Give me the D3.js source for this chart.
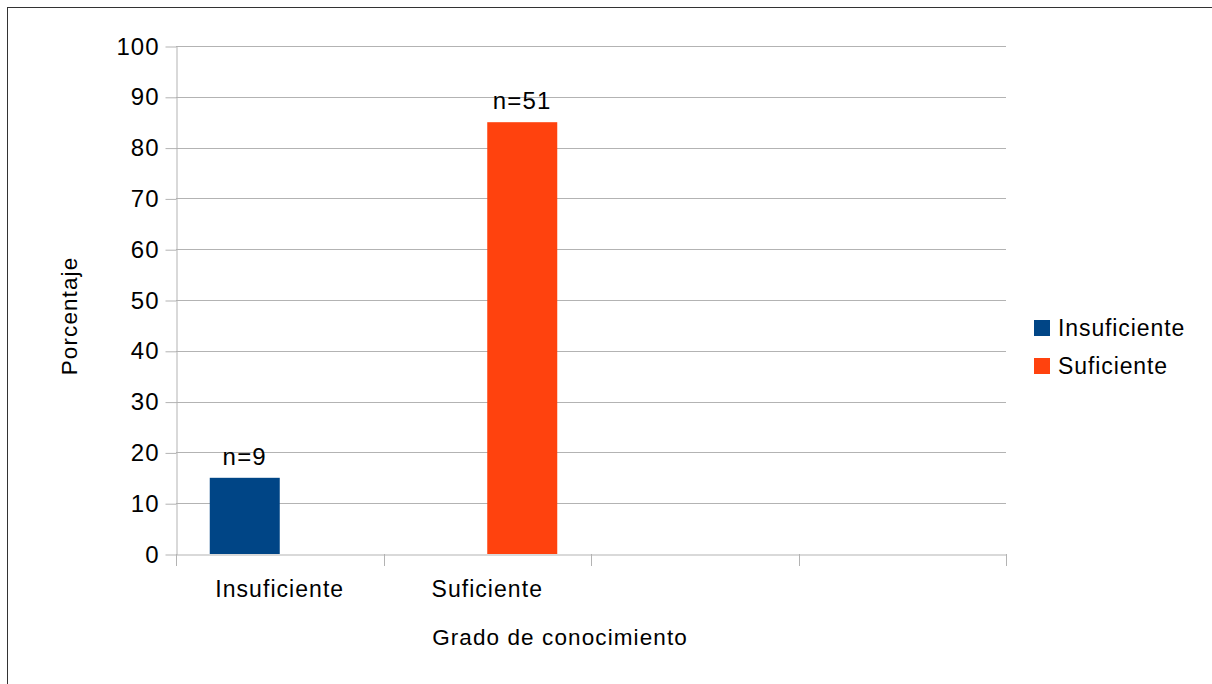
<!doctype html>
<html lang="en">
  <head>
    <meta charset="utf-8">
    <title>Grado de conocimiento</title>
    <script src="https://d3js.org/d3.v7.min.js"></script>
    <style>
      body { margin: 0; background: #fff; font-family: 'Liberation Sans', Arial, sans-serif; }
      text { fill: #000; }
    </style>
  </head>
  <body>
    <div id="root"></div>
  </body>
  <script>

    //data:
    const categories = ["Insuficiente", "Suficiente", "", ""];
    const seriesNames = ["Insuficiente", "Suficiente"];
    const insuficiente = [15, 0, null, null];
    const suficiente = [0, 85, null, null];
    const nLabels = ["n=9", "n=51"];
    const yTicks = [0, 10, 20, 30, 40, 50, 60, 70, 80, 90, 100];
    const colors = ["#004586", "#ff420e"];

    const width = 1212, height = 684;
    const plotLeft = 176, plotRight = 1006, plotTop = 46, plotBottom = 554;
    const groupWidth = 140;

    const svg = d3.select('#root').append('svg')
      .attr('width', width).attr('height', height);

    // outer frame
    svg.append('rect')
      .attr('x', 7.5).attr('y', 7.5)
      .attr('width', width).attr('height', height)
      .attr('fill', 'none').attr('stroke', '#333');

    //scales:
    const x = d3.scaleBand()
      .domain(d3.range(categories.length))
      .range([plotLeft, plotRight]);

    const xSub = d3.scaleBand()
      .domain(seriesNames)
      .range([(x.bandwidth() - groupWidth) / 2, (x.bandwidth() + groupWidth) / 2]);

    const y = d3.scaleLinear().domain([0, 100]).range([plotBottom, plotTop]);

    // gridlines
    svg.append('g').selectAll('line')
      .data(yTicks.filter(d => d > 0))
      .enter().append('line')
      .attr('x1', plotLeft).attr('x2', plotRight)
      .attr('y1', d => Math.round(y(d)) + 0.5).attr('y2', d => Math.round(y(d)) + 0.5)
      .attr('stroke', '#b3b3b3');

    //axes:
    const yAxis = svg.append('g')
      .attr('transform', `translate(${plotLeft + 0.5}, 0.5)`)
      .call(d3.axisLeft(y).tickValues(yTicks).tickSize(11).tickSizeOuter(0).tickPadding(6));
    yAxis.selectAll('line, path').attr('stroke', '#b3b3b3');
    yAxis.selectAll('text')
      .attr('font-size', 24).attr('font-family', 'Liberation Sans')
      .attr('letter-spacing', 1).attr('fill', '#000');

    const xAxis = svg.append('g')
      .attr('transform', `translate(0, ${plotBottom + 0.5})`)
      .call(d3.axisBottom(x).tickValues([]).tickSizeOuter(0));
    xAxis.select('path').attr('stroke', '#b3b3b3');

    // category boundary ticks
    svg.append('g').selectAll('line')
      .data(d3.range(categories.length + 1))
      .enter().append('line')
      .attr('x1', i => Math.round(plotLeft + i * x.step()) + 0.5)
      .attr('x2', i => Math.round(plotLeft + i * x.step()) + 0.5)
      .attr('y1', plotBottom).attr('y2', plotBottom + 12)
      .attr('stroke', '#b3b3b3');

    svg.append('g').selectAll('text')
      .data(categories)
      .enter().append('text')
      .attr('x', (d, i) => x(i) + x.bandwidth() / 2)
      .attr('y', 597)
      .attr('text-anchor', 'middle')
      .attr('font-size', 23)
      .attr('letter-spacing', 1.05)
      .text(d => d);

    //bars:
    const series = [insuficiente, suficiente];
    series.forEach((vals, s) => {
      svg.append('g').selectAll('rect')
        .data(vals.map((v, i) => ({ v, i })).filter(d => d.v))
        .enter().append('rect')
        .attr('x', d => x(d.i) + xSub(seriesNames[s]))
        .attr('width', xSub.bandwidth())
        .attr('y', d => y(d.v))
        .attr('height', d => y(0) - y(d.v))
        .attr('fill', colors[s]);
    });

    // n labels
    svg.append('g').selectAll('text')
      .data(nLabels)
      .enter().append('text')
      .attr('x', (d, i) => x(i) + xSub(seriesNames[i]) + xSub.bandwidth() / 2)
      .attr('y', (d, i) => y(series[i][i]) - 13)
      .attr('text-anchor', 'middle')
      .attr('font-size', 24)
      .attr('letter-spacing', 1.2)
      .text(d => d);

    // axis titles
    svg.append('text')
      .attr('x', (plotLeft + plotRight) / 2 - 31).attr('y', 645)
      .attr('text-anchor', 'middle')
      .attr('font-size', 22.5)
      .attr('letter-spacing', 1.1)
      .text('Grado de conocimiento');

    svg.append('text')
      .attr('transform', 'translate(77, 316) rotate(-90)')
      .attr('text-anchor', 'middle')
      .attr('font-size', 22.5)
      .attr('letter-spacing', 1.1)
      .text('Porcentaje');

    //legend:
    const legend = svg.append('g').attr('transform', 'translate(1034, 320)');
    seriesNames.forEach((name, i) => {
      legend.append('rect')
        .attr('x', 0).attr('y', i * 38)
        .attr('width', 16).attr('height', 16)
        .attr('fill', colors[i]);
      legend.append('text')
        .attr('x', 24).attr('y', i * 38 + 16)
        .attr('font-size', 23)
        .attr('letter-spacing', 0.9)
        .text(name);
    });

  </script>
</html>
